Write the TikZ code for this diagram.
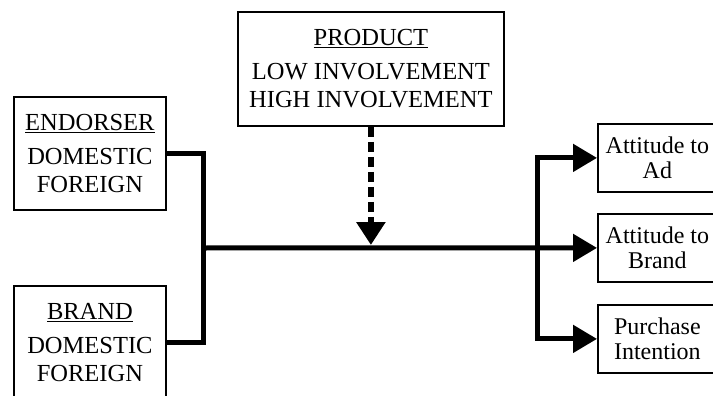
\documentclass[tikz,border=0pt]{standalone}
\usepackage{fontspec}
\setmainfont{Liberation Serif}
\usetikzlibrary{arrows.meta}
\begin{document}
\begin{tikzpicture}[x=1pt,y=-1pt,
  box/.style={draw,line width=1.8pt,anchor=north west,inner sep=0pt,align=center,
    font=\fontsize{24.5}{28}\selectfont},
  lbox/.style={box,minimum width=152pt,minimum height=113pt},
  rbox/.style={box,minimum width=119pt,minimum height=68pt,font=\fontsize{24}{25}\selectfont},
  conn/.style={line width=5pt},
  head/.style={-{Triangle[length=24pt,width=27pt]}},
  dashconn/.style={line width=6pt,dash pattern=on 10pt off 5pt,-{Triangle[length=23pt,width=28pt]}}]
\useasboundingbox (0,0) rectangle (713,396);
\node[lbox] (end) at (13,96) {\underline{ENDORSER}\\[6pt]DOMESTIC\\FOREIGN};
\node[lbox] (brand) at (13,285) {\underline{BRAND}\\[6pt]DOMESTIC\\FOREIGN};
\node[box,minimum width=266pt,minimum height=114pt] (prod) at (237,11)
  {\underline{PRODUCT}\\[6pt]LOW INVOLVEMENT\\HIGH INVOLVEMENT};
\node[rbox] (att1) at (597,123) {Attitude to\\Ad};
\node[rbox] (att2) at (597,213) {Attitude to\\Brand};
\node[rbox] (att3) at (597,304) {Purchase\\Intention};
\coordinate (j1) at (203,248);
\coordinate (j2) at (537,248);
\coordinate (tip) at (371,245);
\draw[conn] (end.east) -| (j1) |- (brand.east);
\draw[conn,head] (j1) -- (att2.west);
\draw[conn,head] (j2) |- (att1.west);
\draw[conn,head] (j2) |- (att3.west);
\draw[dashconn] (prod.south) -- (prod.south |- tip);
\end{tikzpicture}
\end{document}
